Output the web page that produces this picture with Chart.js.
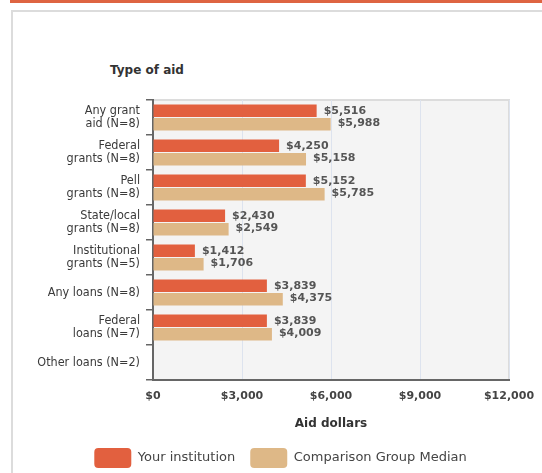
<!DOCTYPE html>
<html>
<head>
<meta charset="utf-8">
<script src="https://cdn.jsdelivr.net/npm/chart.js@4.4.1/dist/chart.umd.min.js"></script>
<style>
  html, body { margin: 0; padding: 0; background: #fff; }
  body { width: 542px; height: 473px; position: relative; overflow: hidden; }
  #strip { position: absolute; left: 10px; top: 0; width: 532px; height: 3px; background: #DE6441; }
  #frame { position: absolute; left: 11px; top: 10px; width: 600px; height: 600px;
           border-left: 2px solid #dcdcdc; border-top: 2px solid #dcdcdc; }
  #title { position: absolute; left: 110px; top: 63px; font: bold 12px "DejaVu Sans", sans-serif; color: #333; }
  #wrap { position: absolute; left: 0; top: 0; width: 542px; height: 473px; }
</style>
</head>
<body>
<div id="strip"></div>
<div id="frame"></div>
<div id="title">Type of aid</div>
<div id="wrap"><canvas id="c" width="542" height="473"></canvas></div>
<script>
const categories = [
  ["Any grant", "aid (N=8)"],
  ["Federal", "grants (N=8)"],
  ["Pell", "grants (N=8)"],
  ["State/local", "grants (N=8)"],
  ["Institutional", "grants (N=5)"],
  "Any loans (N=8)",
  ["Federal", "loans (N=7)"],
  "Other loans (N=2)"
];
const yourInstitution = [5516, 4250, 5152, 2430, 1412, 3839, 3839, null];
const comparisonMedian = [5988, 5158, 5785, 2549, 1706, 4375, 4009, null];
const seriesNames = ["Your institution", "Comparison Group Median"];
const xTicks = [0, 3000, 6000, 9000, 12000];

const fmt = v => "$" + v.toLocaleString("en-US");

const plotBg = {
  id: "plotBg",
  beforeDraw(chart) {
    const {ctx, chartArea: a} = chart;
    ctx.save();
    ctx.fillStyle = "#f4f4f4";
    ctx.fillRect(a.left, a.top, a.right - a.left, a.bottom - a.top);
    ctx.strokeStyle = "#dcdcdc";
    ctx.lineWidth = 2;
    ctx.beginPath();
    ctx.moveTo(a.left, a.top);
    ctx.lineTo(a.right, a.top);
    ctx.lineTo(a.right, a.bottom);
    ctx.stroke();
    ctx.restore();
  }
};

const legendShift = {
  id: "legendShift",
  afterLayout(chart) {
    if (chart.legend) {
      chart.legend.left += 26;
      chart.legend.right += 26;
    }
  }
};

const valueLabels = {
  id: "valueLabels",
  afterDatasetsDraw(chart) {
    const {ctx} = chart;
    ctx.save();
    ctx.font = "bold 11px 'DejaVu Sans', sans-serif";
    ctx.fillStyle = "#555";
    ctx.textAlign = "left";
    ctx.textBaseline = "middle";
    chart.data.datasets.forEach((ds, i) => {
      const meta = chart.getDatasetMeta(i);
      meta.data.forEach((bar, j) => {
        const v = ds.data[j];
        if (v == null) return;
        ctx.fillText(fmt(v), bar.x + 7, bar.y + (i === 0 ? 0 : -1));
      });
    });
    ctx.restore();
  }
};

new Chart(document.getElementById("c"), {
  type: "bar",
  data: {
    labels: categories,
    datasets: [
      { label: seriesNames[0], data: yourInstitution, backgroundColor: "#E2603F" },
      { label: seriesNames[1], data: comparisonMedian, backgroundColor: "#DEB887" }
    ]
  },
  options: {
    indexAxis: "y",
    responsive: false,
    animation: false,
    events: [],
    categoryPercentage: 0.78,
    barPercentage: 0.92,
    layout: { padding: { top: 100, right: 33, left: 0, bottom: -5 } },
    plugins: {
      legend: {
        position: "bottom",
        labels: {
          boxWidth: 37,
          boxHeight: 20,
          padding: 15,
          useBorderRadius: true,
          borderRadius: 4,
          color: "#444",
          font: { family: "'DejaVu Sans', sans-serif", size: 13 }
        }
      },
      tooltip: { enabled: false },
      title: { display: false }
    },
    scales: {
      x: {
        min: 0,
        max: 12000,
        afterBuildTicks(scale) { scale.ticks = xTicks.map(v => ({ value: v })); },
        afterFit(scale) { scale.height = 53; scale.paddingRight = 0; scale.paddingLeft = 0; },
        ticks: {
          callback: v => fmt(v),
          color: "#444",
          padding: 10,
          maxRotation: 0,
          font: { family: "'DejaVu Sans', sans-serif", size: 11, weight: "bold" }
        },
        grid: { color: "#dde3ee", lineWidth: 1, drawTicks: false },
        border: { color: "#666", width: 2 },
        title: {
          display: true,
          text: "Aid dollars",
          color: "#333",
          padding: { top: 0, bottom: 2 },
          font: { family: "'DejaVu Sans', sans-serif", size: 12, weight: "bold" }
        }
      },
      y: {
        afterFit(scale) { scale.width = 153; },
        ticks: {
          color: "#3a3a3a",
          padding: 6,
          font: { family: "'Liberation Sans Narrow', 'DejaVu Sans Condensed', sans-serif", size: 12.5, lineHeight: 1.06 }
        },
        grid: { drawOnChartArea: false, drawTicks: true, tickLength: 7, color: "#666", lineWidth: 1.5 },
        border: { color: "#666", width: 2 }
      }
    }
  },
  plugins: [plotBg, legendShift, valueLabels]
});
</script>
</body>
</html>
